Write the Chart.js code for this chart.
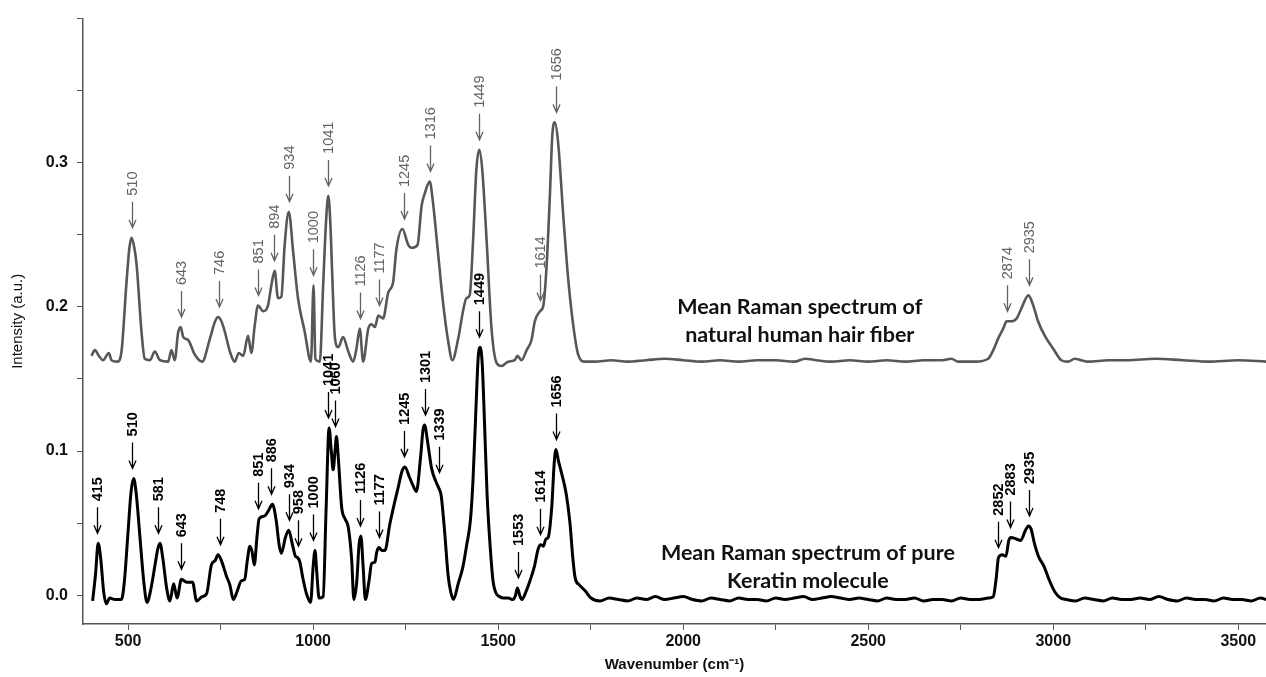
<!DOCTYPE html>
<html>
<head>
<meta charset="utf-8">
<script src="https://cdn.jsdelivr.net/npm/chart.js@4.4.1/dist/chart.umd.min.js"></script>
<style>
  html, body { margin: 0; padding: 0; background: #fff; }
  #wrap { position: relative; width: 1266px; height: 677px; }
</style>
</head>
<body>
<div id="wrap"><canvas id="raman"></canvas></div>
<script>
// ─── Data ──────────────────────────────────────────────
// [wavenumber cm-1, intensity a.u.]

const hairSpectrum = [
  [401, 0.166], [410, 0.170], [421, 0.166], [432, 0.163], [448, 0.168], [455, 0.163],
  [471, 0.162], [482, 0.169], [495, 0.215], [503, 0.240], [509, 0.248], [516, 0.242],
  [523, 0.229], [536, 0.183], [545, 0.164], [559, 0.163], [572, 0.169], [586, 0.163],
  [608, 0.162], [617, 0.170], [626, 0.163], [635, 0.182], [642, 0.186], [649, 0.179],
  [662, 0.177], [680, 0.167], [700, 0.162], [721, 0.178], [735, 0.190], [743, 0.193],
  [752, 0.190], [761, 0.183], [775, 0.169], [788, 0.162], [799, 0.168], [811, 0.166],
  [824, 0.180], [833, 0.168], [842, 0.187], [851, 0.201], [865, 0.197], [878, 0.201],
  [887, 0.215], [896, 0.225], [905, 0.206], [914, 0.207], [923, 0.243], [934, 0.266],
  [946, 0.238], [959, 0.206], [977, 0.183], [994, 0.162], [1001, 0.215], [1006, 0.164],
  [1018, 0.162], [1027, 0.215], [1035, 0.260], [1041, 0.277], [1047, 0.255], [1051, 0.226],
  [1059, 0.178], [1068, 0.172], [1081, 0.179], [1095, 0.169], [1108, 0.162], [1117, 0.171],
  [1126, 0.185], [1135, 0.162], [1149, 0.185], [1158, 0.188], [1167, 0.186], [1176, 0.194],
  [1189, 0.192], [1203, 0.210], [1216, 0.217], [1225, 0.240], [1241, 0.254], [1257, 0.243],
  [1266, 0.241], [1282, 0.243], [1293, 0.270], [1302, 0.279], [1315, 0.287], [1324, 0.272],
  [1338, 0.236], [1351, 0.203], [1365, 0.176], [1376, 0.163], [1392, 0.178], [1405, 0.197],
  [1414, 0.206], [1423, 0.208], [1432, 0.245], [1441, 0.295], [1449, 0.309], [1457, 0.295],
  [1469, 0.245], [1482, 0.185], [1496, 0.161], [1509, 0.159], [1527, 0.162], [1545, 0.163],
  [1552, 0.166], [1563, 0.163], [1577, 0.170], [1590, 0.177], [1599, 0.190], [1613, 0.197],
  [1622, 0.201], [1631, 0.229], [1640, 0.279], [1646, 0.318], [1653, 0.328], [1662, 0.314],
  [1676, 0.263], [1689, 0.220], [1703, 0.187], [1716, 0.167], [1734, 0.162], [1761, 0.162],
  [1806, 0.163], [1850, 0.162], [1900, 0.163], [1950, 0.164], [2000, 0.163], [2050, 0.162],
  [2100, 0.163], [2150, 0.162], [2200, 0.163], [2250, 0.163], [2300, 0.162], [2330, 0.164],
  [2360, 0.163], [2400, 0.162], [2450, 0.163], [2500, 0.162], [2550, 0.163], [2600, 0.162],
  [2650, 0.163], [2700, 0.163], [2725, 0.164], [2743, 0.162], [2790, 0.162], [2824, 0.164],
  [2838, 0.170], [2851, 0.178], [2865, 0.185], [2874, 0.190], [2887, 0.190], [2901, 0.192],
  [2914, 0.199], [2933, 0.208], [2946, 0.201], [2959, 0.190], [2977, 0.180], [3000, 0.171],
  [3022, 0.163], [3040, 0.162], [3058, 0.164], [3075, 0.163], [3094, 0.162], [3150, 0.163],
  [3200, 0.163], [3275, 0.164], [3350, 0.163], [3420, 0.162], [3500, 0.163], [3575, 0.162],
];

const keratinSpectrum = [
  [404, -0.004], [412, 0.015], [419, 0.036], [426, 0.025], [434, 0.002], [441, -0.006],
  [450, -0.002], [465, -0.003], [482, -0.003], [490, 0.010], [500, 0.045], [508, 0.072],
  [515, 0.081], [522, 0.070], [532, 0.040], [542, 0.010], [551, -0.005], [562, 0.005],
  [572, 0.020], [580, 0.032], [586, 0.036], [594, 0.025], [604, 0.005], [613, -0.004],
  [623, 0.008], [632, -0.002], [644, 0.011], [658, 0.009], [674, 0.009], [685, -0.004],
  [700, -0.001], [712, 0.001], [725, 0.021], [735, 0.024], [743, 0.028], [752, 0.024],
  [766, 0.013], [775, 0.007], [784, -0.003], [795, 0.003], [806, 0.010], [815, 0.011],
  [822, 0.024], [829, 0.034], [835, 0.030], [841, 0.021], [848, 0.040], [854, 0.053],
  [869, 0.055], [880, 0.059], [890, 0.063], [900, 0.052], [908, 0.035], [914, 0.029],
  [925, 0.040], [934, 0.045], [944, 0.035], [952, 0.027], [958, 0.026], [964, 0.023],
  [972, 0.012], [982, 0.001], [993, -0.005], [1000, 0.020], [1005, 0.031], [1010, 0.015],
  [1016, -0.002], [1027, -0.001], [1035, 0.060], [1043, 0.116], [1049, 0.100], [1054, 0.087],
  [1059, 0.100], [1063, 0.110], [1068, 0.095], [1077, 0.061], [1086, 0.053], [1095, 0.047],
  [1104, 0.025], [1110, -0.003], [1118, 0.010], [1124, 0.035], [1129, 0.041], [1135, 0.020],
  [1141, -0.003], [1151, 0.010], [1158, 0.022], [1167, 0.023], [1172, 0.030], [1178, 0.033],
  [1186, 0.031], [1194, 0.031], [1207, 0.049], [1218, 0.062], [1230, 0.075], [1240, 0.086],
  [1248, 0.089], [1260, 0.082], [1270, 0.076], [1279, 0.072], [1290, 0.095], [1297, 0.115],
  [1301, 0.118], [1310, 0.105], [1320, 0.088], [1333, 0.078], [1340, 0.074], [1346, 0.069],
  [1355, 0.045], [1365, 0.013], [1372, 0.002], [1379, -0.003], [1392, 0.008], [1405, 0.020],
  [1415, 0.035], [1425, 0.052], [1432, 0.080], [1440, 0.130], [1446, 0.165], [1451, 0.172],
  [1457, 0.160], [1463, 0.120], [1470, 0.070], [1478, 0.035], [1486, 0.010], [1495, 0.001],
  [1504, -0.001], [1515, -0.002], [1527, -0.002], [1540, -0.003], [1547, 0.000], [1552, 0.005],
  [1558, 0.000], [1564, -0.003], [1576, 0.003], [1586, 0.010], [1598, 0.020], [1608, 0.032],
  [1615, 0.035], [1622, 0.034], [1629, 0.039], [1635, 0.040], [1645, 0.062], [1651, 0.090],
  [1656, 0.101], [1663, 0.093], [1670, 0.086], [1684, 0.070], [1694, 0.050], [1702, 0.025],
  [1708, 0.012], [1720, 0.007], [1735, 0.003], [1751, -0.002], [1775, -0.004], [1800, -0.002],
  [1825, -0.003], [1850, -0.004], [1875, -0.002], [1900, -0.003], [1925, -0.001], [1950, -0.003],
  [1975, -0.002], [2000, -0.001], [2025, -0.003], [2050, -0.004], [2075, -0.002], [2100, -0.003],
  [2125, -0.004], [2150, -0.002], [2175, -0.003], [2200, -0.003], [2225, -0.004], [2250, -0.002],
  [2275, -0.003], [2300, -0.002], [2325, -0.001], [2350, -0.003], [2375, -0.002], [2400, -0.001],
  [2425, -0.002], [2450, -0.003], [2475, -0.002], [2500, -0.003], [2525, -0.004], [2550, -0.002],
  [2575, -0.003], [2600, -0.003], [2625, -0.002], [2650, -0.004], [2675, -0.003], [2700, -0.003],
  [2725, -0.004], [2750, -0.002], [2775, -0.003], [2800, -0.003], [2825, -0.002], [2838, -0.001],
  [2846, 0.012], [2852, 0.026], [2862, 0.028], [2872, 0.027], [2880, 0.038], [2886, 0.040],
  [2900, 0.039], [2912, 0.038], [2925, 0.045], [2933, 0.048], [2940, 0.046], [2950, 0.035],
  [2960, 0.027], [2975, 0.020], [2990, 0.010], [3005, 0.002], [3020, -0.002], [3036, -0.003],
  [3060, -0.004], [3085, -0.002], [3110, -0.003], [3135, -0.004], [3160, -0.002], [3185, -0.003],
  [3210, -0.003], [3235, -0.002], [3260, -0.003], [3285, -0.001], [3310, -0.003], [3335, -0.004],
  [3360, -0.002], [3385, -0.003], [3410, -0.003], [3435, -0.004], [3460, -0.002], [3485, -0.003],
  [3510, -0.003], [3535, -0.004], [3560, -0.002], [3575, -0.003],
];

const hairPeaks    = [510, 643, 746, 851, 894, 934, 1000, 1041, 1126, 1177, 1245, 1316, 1449, 1614, 1656, 2874, 2935];
const keratinPeaks = [415, 510, 581, 643, 748, 851, 886, 934, 958, 1000, 1041, 1060, 1126, 1177, 1245, 1301, 1339, 1449, 1553, 1614, 1656, 2852, 2883, 2935];

const hairCaption    = ['Mean Raman spectrum of', 'natural human hair fiber'];
const keratinCaption = ['Mean Raman spectrum of pure', 'Keratin molecule'];

const xTicks = [500, 750, 1000, 1250, 1500, 1750, 2000, 2250, 2500, 2750, 3000, 3250, 3500];
const yTicks = [0, 0.05, 0.1, 0.15, 0.2, 0.25, 0.3, 0.35, 0.4];

// ─── Helpers ───────────────────────────────────────────

const NARROW = '"Liberation Sans Narrow", "Arial Narrow", "Liberation Sans", Arial, sans-serif';
const SANS   = '"Liberation Sans", Arial, sans-serif';

function heightAt(spectrum, at) {
  let best = -Infinity;
  for (let i = 1; i < spectrum.length; i++) {
    const [x0, y0] = spectrum[i - 1];
    const [x1, y1] = spectrum[i];
    if (at >= x0 && at <= x1) best = Math.max(best, y0 + (y1 - y0) * (at - x0) / (x1 - x0));
  }
  spectrum.forEach(([wn, v]) => {
    if (Math.abs(wn - at) <= 7) best = Math.max(best, v);
  });
  return best;
}

// ─── Plugins ───────────────────────────────────────────

const peakLabels = {
  id: 'peakLabels',
  afterDatasetsDraw(chart) {
    const { ctx, scales: { x, y } } = chart;
    const groups = [
      { peaks: hairPeaks,    spectrum: hairSpectrum,    color: '#636363', font: `14.5px ${SANS}` },
      { peaks: keratinPeaks, spectrum: keratinSpectrum, color: '#000',    font: `bold 14.5px ${SANS}` },
    ];

    ctx.save();
    groups.forEach(g => {
      ctx.strokeStyle = g.color;
      ctx.fillStyle   = g.color;
      ctx.font        = g.font;
      ctx.lineWidth   = 1.3;

      g.peaks.forEach(p => {
        const px  = Math.round(x.getPixelForValue(p)) + 0.5;
        const tip = y.getPixelForValue(heightAt(g.spectrum, p)) - 10;
        const top = tip - 26;

        ctx.beginPath();
        ctx.moveTo(px, top);
        ctx.lineTo(px, tip);
        ctx.moveTo(px - 3.5, tip - 8);
        ctx.lineTo(px, tip);
        ctx.lineTo(px + 3.5, tip - 8);
        ctx.stroke();

        ctx.save();
        ctx.translate(px, top - 6);
        ctx.rotate(-Math.PI / 2);
        ctx.textAlign    = 'left';
        ctx.textBaseline = 'middle';
        ctx.fillText(String(p), 0, 0);
        ctx.restore();
      });
    });
    ctx.restore();
  },
};

const captions = {
  id: 'captions',
  afterDraw(chart) {
    const { ctx, scales: { x, y } } = chart;
    ctx.save();
    ctx.fillStyle    = '#111';
    ctx.font         = 'bold 21.5px Lato, "Open Sans", sans-serif';
    ctx.textAlign    = 'center';
    ctx.textBaseline = 'middle';

    const hx = x.getPixelForValue(2315);
    ctx.fillText(hairCaption[0], hx, y.getPixelForValue(0.200));
    ctx.fillText(hairCaption[1], hx, y.getPixelForValue(0.1807));

    const kx = x.getPixelForValue(2337);
    ctx.fillText(keratinCaption[0], kx, y.getPixelForValue(0.029));
    ctx.fillText(keratinCaption[1], kx, y.getPixelForValue(0.0097));
    ctx.restore();
  },
};

// ─── Chart ─────────────────────────────────────────────

const toPoints = s => s.map(([wn, v]) => ({ x: wn, y: v }));

new Chart(document.getElementById('raman'), {
  type: 'line',
  data: {
    datasets: [
      {
        label: 'Natural human hair fiber',
        data: toPoints(hairSpectrum),
        borderColor: '#575757',
        borderWidth: 2.6,
        pointRadius: 0,
        cubicInterpolationMode: 'monotone',
      },
      {
        label: 'Pure keratin',
        data: toPoints(keratinSpectrum),
        borderColor: '#000',
        borderWidth: 3,
        pointRadius: 0,
        cubicInterpolationMode: 'monotone',
      },
    ],
  },
  options: {
    responsive: true,
    maintainAspectRatio: false,
    animation: false,
    layout: { padding: { top: 15, right: 0, bottom: 0, left: 0 } },
    plugins: {
      legend: { display: false },
      tooltip: { enabled: false },
    },
    scales: {
      x: {
        type: 'linear',
        min: 378,
        max: 3575,
        afterBuildTicks: s => { s.ticks = xTicks.map(v => ({ value: v })); },
        afterFit: s => { s.height = 53; },
        ticks: {
          callback: v => (v % 500 === 0 ? String(v) : ''),
          autoSkip: false,
          maxRotation: 0,
          padding: 2,
          color: '#111',
          font: { family: NARROW, size: 16, weight: 'bold' },
        },
        grid: { drawOnChartArea: false, tickLength: 6, color: '#555' },
        border: { color: '#555', width: 1.5 },
        title: {
          display: true,
          text: 'Wavenumber (cm⁻¹)',
          color: '#111',
          font: { family: NARROW, size: 15, weight: 'bold' },
          padding: { top: 0, bottom: 3 },
        },
      },
      y: {
        min: -0.02,
        max: 0.4,
        afterBuildTicks: s => { s.ticks = yTicks.map(v => ({ value: v })); },
        afterFit: s => { s.width = 83; },
        ticks: {
          callback: v => ([0, 0.1, 0.2, 0.3].some(t => Math.abs(t - v) < 1e-9) ? v.toFixed(1) : ''),
          autoSkip: false,
          padding: 9,
          color: '#111',
          font: { family: NARROW, size: 16, weight: 'bold' },
        },
        grid: { drawOnChartArea: false, tickLength: 6, color: '#555' },
        border: { color: '#555', width: 1.5 },
        title: {
          display: true,
          text: 'Intensity (a.u.)',
          color: '#111',
          font: { family: NARROW, size: 15 },
          padding: { top: 9, bottom: 0 },
        },
      },
    },
  },
  plugins: [peakLabels, captions],
});
</script>
</body>
</html>
